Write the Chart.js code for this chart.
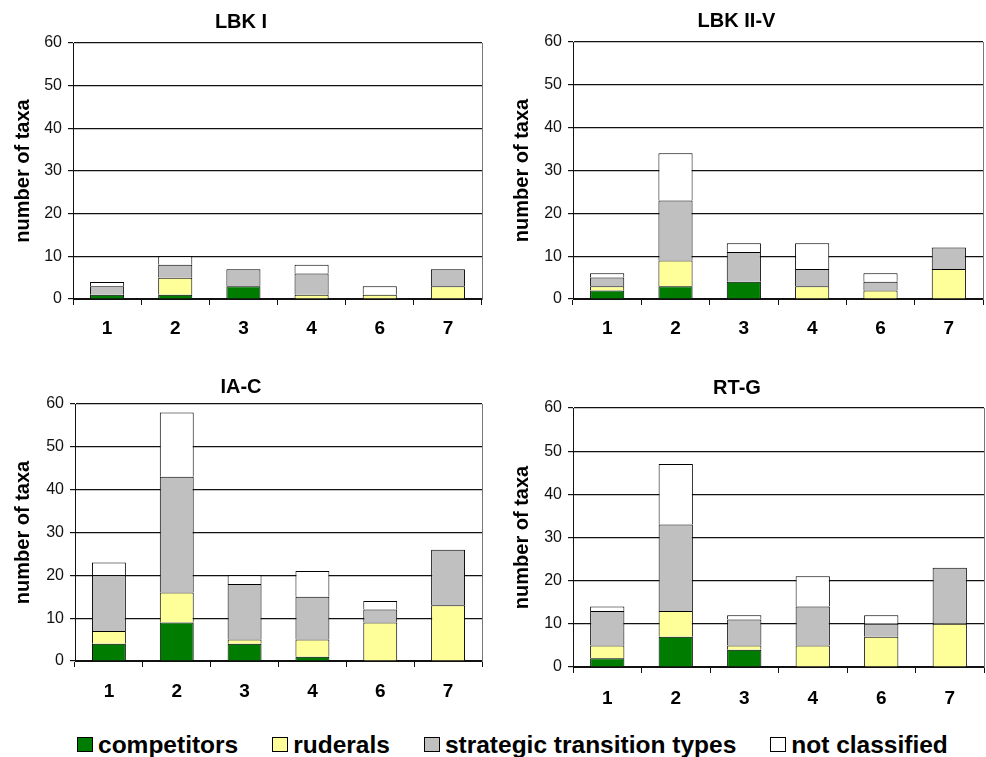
<!DOCTYPE html>
<html>
<head>
<meta charset="utf-8">
<script src="https://cdn.jsdelivr.net/npm/chart.js@4/dist/chart.umd.min.js"></script>
<style>
  html, body { margin: 0; padding: 0; background: #fff; }
  body { width: 986px; height: 757px; position: relative; overflow: hidden; font-family: "Liberation Sans", Arial, sans-serif; }
  canvas { position: absolute; }
  #legend { position: absolute; left: 77px; top: 732px; display: flex; gap: 34px; font-weight: bold; font-size: 24.5px; line-height: 25px; color: #000; }
  #legend .item { display: flex; align-items: center; }
  #legend .box { width: 16px; height: 15px; border: 1px solid #000; box-sizing: border-box; margin-right: 5px; }
</style>
</head>
<body>
<canvas id="c1" width="490" height="345" style="left:0;top:0"></canvas>
<canvas id="c2" width="496" height="345" style="left:490px;top:0"></canvas>
<canvas id="c3" width="490" height="360" style="left:0;top:355px"></canvas>
<canvas id="c4" width="496" height="360" style="left:490px;top:355px"></canvas>
<div id="legend"></div>
<script>
// categories and tick labels
const categories = ['1', '2', '3', '4', '6', '7'];
const yTicks = [0, 10, 20, 30, 40, 50, 60];
const seriesNames = ['competitors', 'ruderals', 'strategic transition types', 'not classified'];
const seriesColors = ['#007d00', '#ffff99', '#c0c0c0', '#ffffff'];

// LBK I
const lbk1Competitors = [1, 1, 3, 0, 0, 0];
const lbk1Ruderals    = [0, 4, 0, 1, 1, 3];
const lbk1Strategic   = [2, 3, 4, 5, 0, 4];
const lbk1NotClass    = [1, 2, 0, 2, 2, 0];

// LBK II-V
const lbk2Competitors = [2, 3, 4, 0, 0, 0];
const lbk2Ruderals    = [1, 6, 0, 3, 2, 7];
const lbk2Strategic   = [2, 14, 7, 4, 2, 5];
const lbk2NotClass    = [1, 11, 2, 6, 2, 0];

// IA-C
const iacCompetitors = [4, 9, 4, 1, 0, 0];
const iacRuderals    = [3, 7, 1, 4, 9, 13];
const iacStrategic   = [13, 27, 13, 10, 3, 13];
const iacNotClass    = [3, 15, 2, 6, 2, 0];

// RT-G
const rtgCompetitors = [2, 7, 4, 0, 0, 0];
const rtgRuderals    = [3, 6, 1, 5, 7, 10];
const rtgStrategic   = [8, 20, 6, 9, 3, 13];
const rtgNotClass    = [1, 14, 1, 7, 2, 0];

Chart.defaults.font.family = '"Liberation Sans", Arial, sans-serif';
Chart.defaults.color = '#000';

const panels = [
  { id: 'c1', title: 'LBK I', series: [lbk1Competitors, lbk1Ruderals, lbk1Strategic, lbk1NotClass],
    box: { left: 0, top: 0, w: 490, h: 345 }, plot: { l: 73, t: 43, r: 482, b: 299 }, titleY: 22.5, yTitleX: 23, xPad: 12 },
  { id: 'c2', title: 'LBK II-V', series: [lbk2Competitors, lbk2Ruderals, lbk2Strategic, lbk2NotClass],
    box: { left: 490, top: 0, w: 496, h: 345 }, plot: { l: 573, t: 42, r: 983, b: 299 }, titleY: 21, yTitleX: 522, xPad: 12 },
  { id: 'c3', title: 'IA-C', series: [iacCompetitors, iacRuderals, iacStrategic, iacNotClass],
    box: { left: 0, top: 355, w: 490, h: 360 }, plot: { l: 75, t: 404, r: 482, b: 661 }, titleY: 387, yTitleX: 23, xPad: 13 },
  { id: 'c4', title: 'RT-G', series: [rtgCompetitors, rtgRuderals, rtgStrategic, rtgNotClass],
    box: { left: 490, top: 355, w: 496, h: 360 }, plot: { l: 573, t: 408, r: 984, b: 667 }, titleY: 388.5, yTitleX: 522, xPad: 14 }
];

function makeChart(p) {
  const b = p.box, a = p.plot;
  const datasets = p.series.map((vals, i) => ({
    label: seriesNames[i],
    data: vals,
    backgroundColor: seriesColors[i],
    borderColor: '#000',
    borderWidth: 1,
    borderSkipped: 'start',
    inflateAmount: 0,
    barPercentage: 0.5,
    categoryPercentage: 1.0
  }));

  return new Chart(document.getElementById(p.id), {
    type: 'bar',
    data: { labels: categories, datasets: datasets },
    options: {
      responsive: false,
      animation: false,
      devicePixelRatio: 1,
      layout: { padding: { left: 0, top: 0, bottom: 0, right: b.left + b.w - a.r } },
      plugins: {
        legend: { display: false },
        tooltip: { enabled: false },
        title: {
          display: true,
          text: p.title,
          font: { size: 20, weight: 'bold' },
          color: '#000',
          padding: { top: p.titleY - b.top - 12, bottom: a.t - p.titleY - 12 }
        }
      },
      scales: {
        x: {
          stacked: true,
          grid: { drawOnChartArea: false, drawTicks: true, tickLength: 6, color: '#111' },
          border: { display: true, color: '#111' },
          ticks: { font: { size: 19, weight: 'bold' }, color: '#000', padding: p.xPad },
          afterFit: s => { s.height = b.top + b.h - a.b; }
        },
        y: {
          stacked: true,
          min: 0,
          max: 60,
          afterBuildTicks: s => { s.ticks = yTicks.map(v => ({ value: v })); },
          grid: { color: '#111', lineWidth: 1.2, tickLength: 5 },
          border: { display: true, color: '#111' },
          ticks: { font: { size: 16 }, color: '#111', padding: 6 },
          title: {
            display: true,
            text: 'number of taxa',
            font: { size: 20, weight: 'bold' },
            color: '#000',
            padding: { top: p.yTitleX - b.left - 12, bottom: 0 }
          },
          afterFit: s => { s.width = a.l - b.left; }
        },
        yRight: {
          position: 'right',
          min: 0,
          max: 60,
          grid: { display: false },
          ticks: { display: false },
          border: { display: true, color: '#777' },
          afterFit: s => { s.width = 0; }
        }
      }
    }
  });
}

panels.forEach(makeChart);

// legend
const legend = document.getElementById('legend');
seriesNames.forEach((name, i) => {
  const item = document.createElement('div');
  item.className = 'item';
  const box = document.createElement('span');
  box.className = 'box';
  box.style.background = seriesColors[i];
  const txt = document.createElement('span');
  txt.textContent = name;
  item.appendChild(box);
  item.appendChild(txt);
  legend.appendChild(item);
});
</script>
</body>
</html>
